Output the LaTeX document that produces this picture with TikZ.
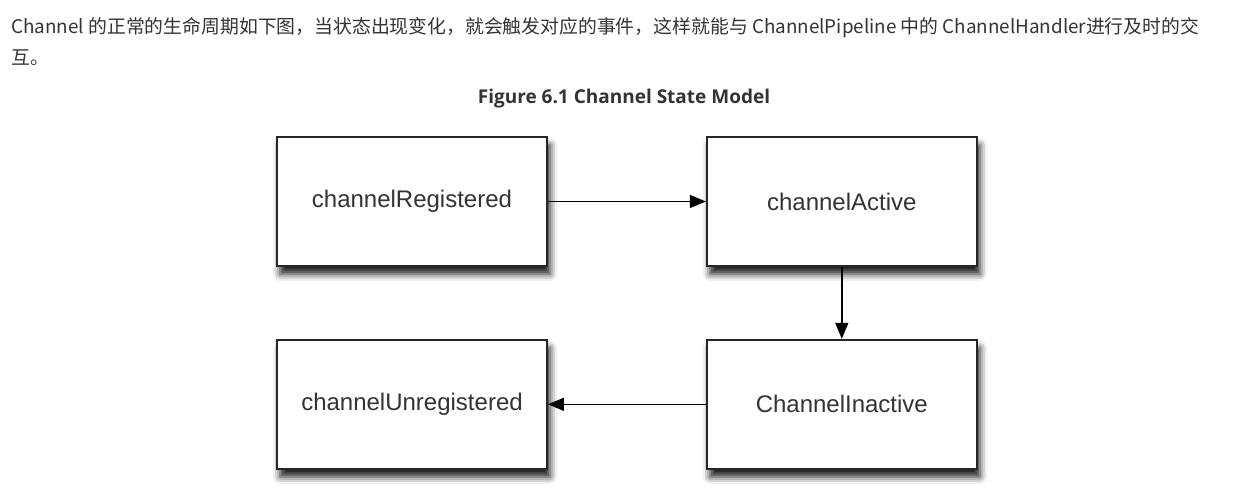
\documentclass[tikz,border=0pt]{standalone}
\usepackage{fontspec}
\setmainfont{Liberation Sans}
\newfontfamily\cjk{Noto Sans CJK SC}
\newfontfamily\titlefont{Open Sans}
\usetikzlibrary{positioning,arrows.meta,shadows.blur}
\definecolor{txtgray}{HTML}{333333}

\tikzset{
  state/.style={draw=black!85, line width=0.9pt, fill=white,
    minimum width=135pt, minimum height=64.5pt,
    font=\fontsize{12}{14}\selectfont, text=txtgray,
    blur shadow={shadow xshift=1.5pt, shadow yshift=-4pt,
      shadow blur radius=3.5pt, shadow opacity=90}},
  flow/.style={line width=0.7pt, -{Triangle[length=8pt,width=6.5pt]}},
  intro/.style={anchor=base west, inner sep=0pt, text=txtgray,
    font=\cjk\fontsize{9.42}{11}\selectfont},
}

\begin{document}
\begin{tikzpicture}[x=0.5pt,y=-0.5pt]
	% canvas
	\useasboundingbox (0,0) rectangle (1238,498);

	% intro text
	\node[intro] (intro1) at (11,33) {Channel 的正常的生命周期如下图，当状态出现变化，就会触发对应的事件，这样就能与 ChannelPipeline 中的 ChannelHandler进行及时的交};
	\node[intro] (intro2) at (11,64) {互。};

	% caption
	\node[anchor=base, inner sep=0pt, text=txtgray,
	  font=\titlefont\bfseries\fontsize{9.5}{11}\selectfont] (caption) at (624,103) {Figure 6.1 Channel State Model};

	% states
	\node[state] (registered) at (412,201.5) {channelRegistered};
	\node[state, right=79pt of registered] (active) {channelActive};
	\node[state, below=36pt of active] (inactive) {ChannelInactive};
	\node[state, left=79pt of inactive] (unregistered) {channelUnregistered};

	% transitions
	\draw[flow] (registered) -- (active);
	\draw[flow] (active) -- (inactive);
	\draw[flow] (inactive) -- (unregistered);
\end{tikzpicture}
\end{document}
